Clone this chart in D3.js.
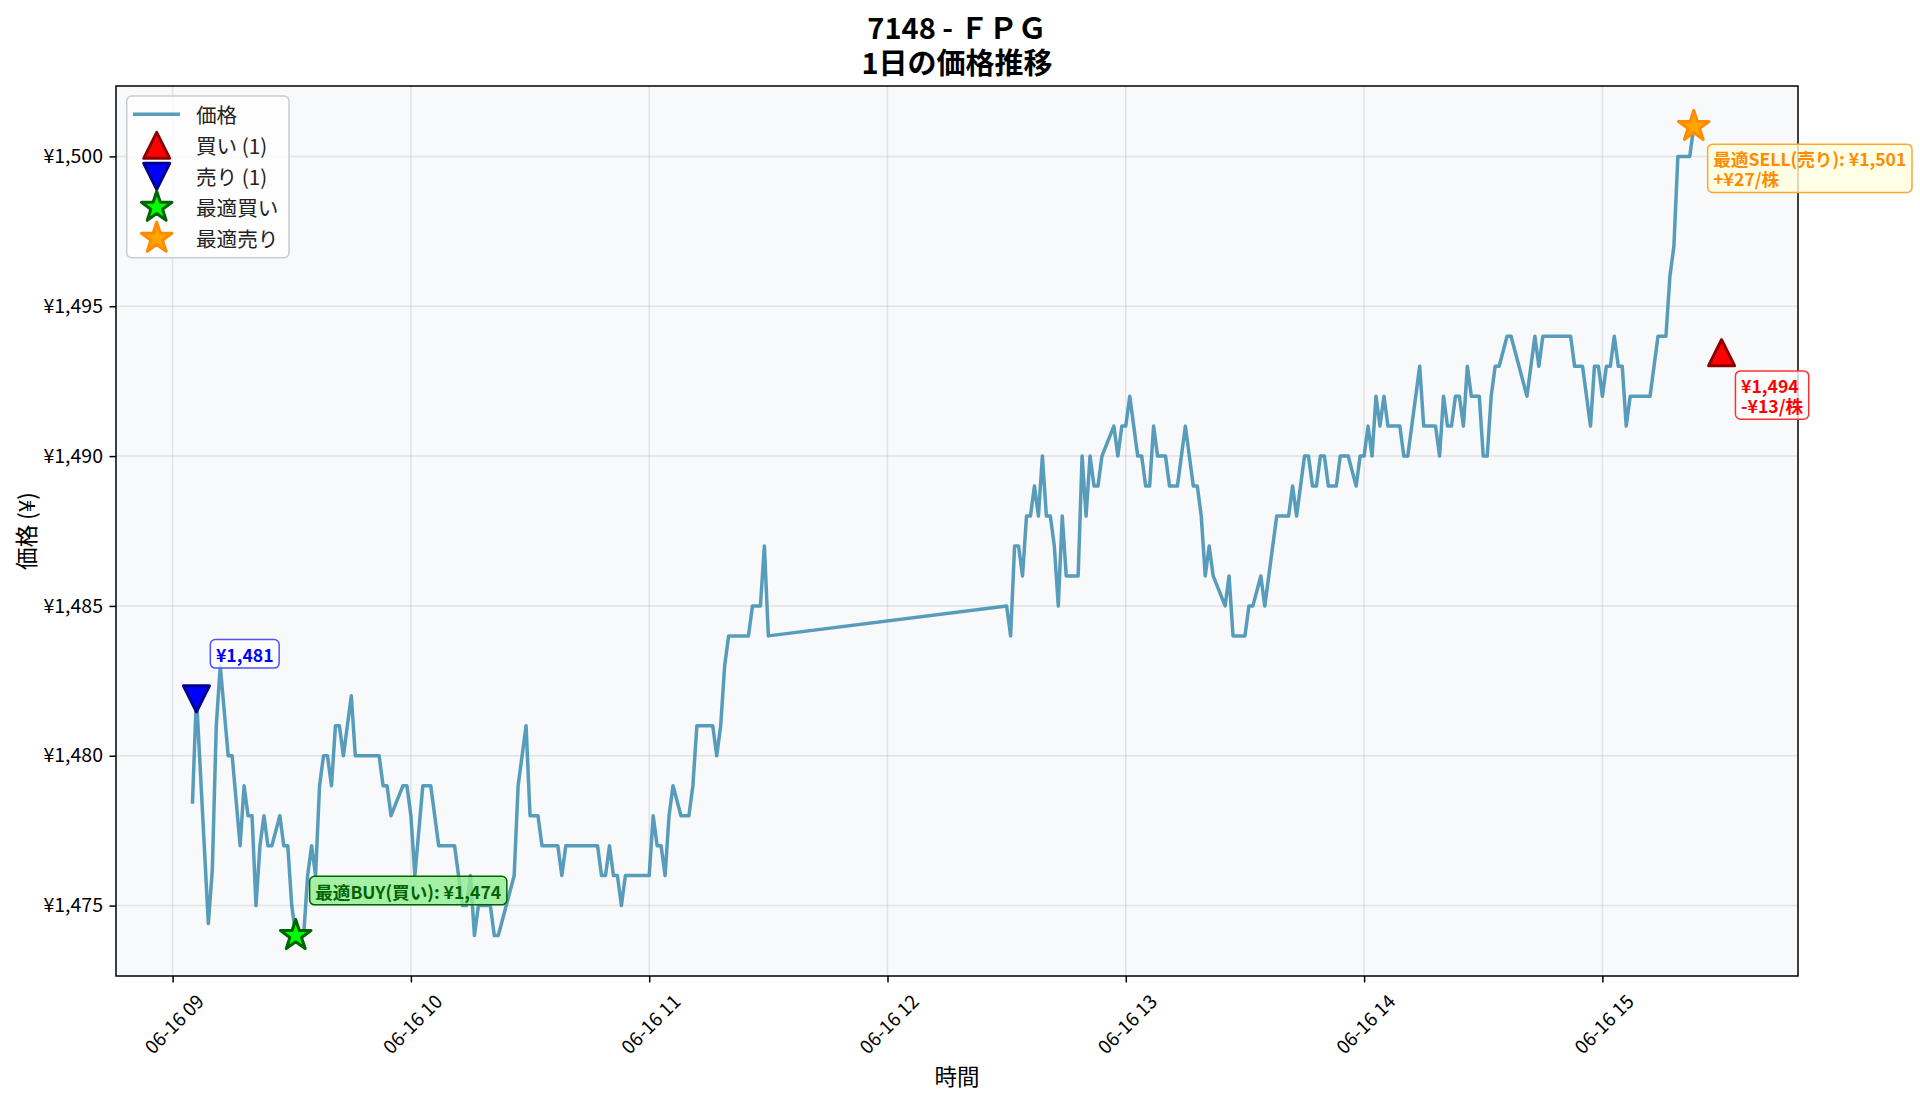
<!DOCTYPE html>
<html>
<head>
<meta charset="utf-8">
<script src="https://cdn.jsdelivr.net/npm/d3@7"></script>
<style>
  body { margin: 0; background: #ffffff; }
  text { font-family: "Noto Sans CJK JP", "Noto Sans", sans-serif; }
</style>
</head>
<body>
<div id="chart"></div>
<script>
// price vertices for 2025-06-16 (1-minute bars)
const priceTimes = [
  "09:05","09:06","09:09","09:10","09:11","09:12","09:14","09:15","09:17","09:18",
  "09:19","09:20","09:21","09:22","09:23","09:24","09:25","09:27","09:28","09:29",
  "09:30","09:31","09:33","09:34","09:35","09:36","09:37","09:38","09:39","09:40",
  "09:41","09:42","09:43","09:45","09:46","09:52","09:53","09:54","09:55","09:58",
  "09:59","10:00","10:01","10:03","10:05","10:07","10:11","10:13","10:14","10:15",
  "10:16","10:17","10:20","10:21","10:22","10:26","10:27","10:29","10:30","10:32",
  "10:33","10:37","10:38","10:39","10:47","10:48","10:49","10:50","10:51","10:52",
  "10:53","10:54","11:00","11:01","11:02","11:03","11:04","11:05","11:06","11:08",
  "11:10","11:11","11:12","11:16","11:17","11:18","11:19","11:20","11:25","11:26",
  "11:28","11:29","11:30",
  "12:30","12:31","12:32","12:33","12:34","12:35","12:36","12:37","12:38","12:39",
  "12:40","12:41","12:42","12:43","12:44","12:45","12:48","12:49","12:50","12:51",
  "12:52","12:53","12:54","12:57","12:58","12:59","13:00","13:01","13:03","13:04",
  "13:05","13:06","13:07","13:08","13:10","13:11","13:13","13:15","13:17","13:18",
  "13:19","13:20","13:21","13:22","13:25","13:26","13:27","13:30","13:31","13:32",
  "13:34","13:35","13:38","13:41","13:42","13:43","13:45","13:46","13:47","13:48",
  "13:49","13:50","13:51","13:53","13:54","13:56","13:58","13:59","14:00","14:01",
  "14:02","14:03","14:04","14:05","14:06","14:09","14:10","14:11","14:14","14:15",
  "14:18","14:19","14:20","14:21","14:22","14:23","14:24","14:25","14:26","14:27",
  "14:29","14:30","14:31","14:32","14:33","14:34","14:36","14:37","14:41","14:43",
  "14:44","14:45","14:52","14:53","14:55","14:57","14:58","14:59","15:00","15:01",
  "15:02","15:03","15:04","15:05","15:06","15:07","15:12","15:14","15:16","15:17",
  "15:18","15:19","15:22","15:23"
];
const priceValues = [
  1478.4,1482,1474.4,1476.2,1481,1483,1480,1480,1477,1479,
  1478,1478,1475,1477,1478,1477,1477,1478,1477,1477,
  1475,1474,1474,1476,1477,1476,1479,1480,1480,1479,
  1481,1481,1480,1482,1480,1480,1479,1479,1478,1479,
  1479,1478,1476,1479,1479,1477,1477,1475,1475,1476,
  1474,1475,1475,1474,1474,1476,1479,1481,1478,1478,
  1477,1477,1476,1477,1477,1476,1476,1477,1476,1476,
  1475,1476,1476,1478,1477,1477,1476,1478,1479,1478,
  1478,1479,1481,1481,1480,1481,1483,1484,1484,1485,
  1485,1487,1484,
  1485,1484,1487,1487,1486,1488,1488,1489,1488,1490,
  1488,1488,1487,1485,1488,1486,1486,1490,1488,1490,
  1489,1489,1490,1491,1490,1491,1491,1492,1490,1490,
  1489,1489,1491,1490,1490,1489,1489,1491,1489,1489,
  1488,1486,1487,1486,1485,1486,1484,1484,1485,1485,
  1486,1485,1488,1488,1489,1488,1490,1490,1489,1489,
  1490,1490,1489,1489,1490,1490,1489,1490,1490,1491,
  1490,1492,1491,1492,1491,1491,1490,1490,1493,1491,
  1491,1490,1492,1491,1491,1492,1492,1491,1493,1492,
  1492,1490,1490,1492,1493,1493,1494,1494,1492,1494,
  1493,1494,1494,1493,1493,1491,1493,1493,1492,1493,
  1493,1494,1493,1493,1491,1492,1492,1494,1494,1496,
  1497,1500,1500,1501
];

// trade signals
const sellTimes = ["09:06"];
const sellPrices = [1481];
const sellMarkerY = [1481.9];
const buyTimes = ["15:30"];
const buyPrices = [1494];
const buyMarkerY = [1493.45];
const buyPnl = [-13];

// optimal entry / exit of the day
const bestBuyTimes = ["09:31"];
const bestBuyPrices = [1474];
const bestSellTimes = ["15:23"];
const bestSellPrices = [1501];
const bestProfit = [27];

const yTicks = [1475, 1480, 1485, 1490, 1495, 1500];
const xTickHours = [9, 10, 11, 12, 13, 14, 15];
const legendLabels = ["価格", "買い (1)", "売り (1)", "最適買い", "最適売り"];
const titleLines = ["7148 - ＦＰＧ", "1日の価格推移"];

const width = 1920, height = 1101;
const margin = {top: 86, right: 122, bottom: 125, left: 116};
const plotW = width - margin.left - margin.right;
const plotH = height - margin.top - margin.bottom;

const lineColor = "#2E86AB";
const yen = v => "¥" + d3.format(",")(v);
const day = s => { let p = s.split(":").map(Number); return new Date(2025, 5, 16, p[0], p[1]); };

let series = priceTimes.map((t, i) => ({t: day(t), v: priceValues[i]}));

//data limits with 5% padding, like the original plot
let allT = series.map(d => d.t).concat(sellTimes.map(day), buyTimes.map(day));
let allV = priceValues.concat(bestBuyPrices, bestSellPrices);
let tExt = d3.extent(allT), vExt = d3.extent(allV);
let tPad = (tExt[1] - tExt[0]) * 0.05, vPad = (vExt[1] - vExt[0]) * 0.05;

let xScale = d3.scaleTime()
    .domain([new Date(+tExt[0] - tPad), new Date(+tExt[1] + tPad)])
    .range([0, plotW]);
let yScale = d3.scaleLinear()
    .domain([vExt[0] - vPad, vExt[1] + vPad])
    .range([plotH, 0]);

let svg = d3.select("#chart").append("svg")
    .attr("width", width)
    .attr("height", height);

let g = svg.append("g")
    .attr("transform", "translate(" + margin.left + "," + margin.top + ")");

g.append("rect")
    .attr("width", plotW)
    .attr("height", plotH)
    .attr("fill", "#f8f9fa");

/** grid */
g.append("g").selectAll("line")
    .data(yTicks)
    .enter().append("line")
    .attr("x1", 0).attr("x2", plotW)
    .attr("y1", d => yScale(d)).attr("y2", d => yScale(d))
    .attr("stroke", "#b0b0b0").attr("stroke-opacity", 0.3).attr("stroke-width", 1.5);

let hourTicks = xTickHours.map(h => new Date(2025, 5, 16, h, 0));
g.append("g").selectAll("line")
    .data(hourTicks)
    .enter().append("line")
    .attr("x1", d => xScale(d)).attr("x2", d => xScale(d))
    .attr("y1", 0).attr("y2", plotH)
    .attr("stroke", "#b0b0b0").attr("stroke-opacity", 0.3).attr("stroke-width", 1.5);

/** axes */
let yAxis = d3.axisLeft(yScale).tickValues(yTicks).tickFormat(yen).tickSize(6.5).tickPadding(6.5);
let yAx = g.append("g").call(yAxis);
yAx.select(".domain").remove();
yAx.selectAll("line").attr("stroke", "#000").attr("stroke-width", 1.5);
yAx.selectAll("text")
    .attr("font-family", "Noto Sans CJK JP")
    .attr("font-size", 19.5)
    .attr("fill", "#000");

let tickFont = 19;
let xAxis = d3.axisBottom(xScale).tickValues(hourTicks).tickFormat(d3.timeFormat("%m-%d %H")).tickSize(6.5);
let xAx = g.append("g")
    .attr("transform", "translate(0," + plotH + ")")
    .call(xAxis);
xAx.select(".domain").remove();
xAx.selectAll("line").attr("stroke", "#000").attr("stroke-width", 1.5);
xAx.selectAll("text")
    .attr("font-family", "Noto Sans CJK JP")
    .attr("font-size", tickFont)
    .attr("fill", "#000")
    .attr("dy", null)
    .attr("y", 0)
    .style("text-anchor", "middle")
    .style("dominant-baseline", "central")
    .each(function() {
        let len = this.getComputedTextLength();
        let half = (len + tickFont * 1.15) * 0.3536;
        d3.select(this).attr("transform", "translate(0," + (13 + half) + ") rotate(-45)");
    });

g.append("rect")
    .attr("width", plotW)
    .attr("height", plotH)
    .attr("fill", "none")
    .attr("stroke", "#000")
    .attr("stroke-width", 1.5);

/** axis labels and title */
svg.append("text")
    .text("時間")
    .attr("x", margin.left + plotW / 2).attr("y", 1075)
    .attr("font-size", 22.5).attr("text-anchor", "middle")
    .style("dominant-baseline", "central");

svg.append("text")
    .text("価格 (¥)")
    .attr("font-size", 22.5).attr("text-anchor", "middle")
    .style("dominant-baseline", "central")
    .attr("transform", "translate(24.5," + (margin.top + plotH / 2) + ") rotate(-90)");

// two-line title as one text block
let title = svg.append("text")
    .attr("font-size", 29).attr("font-weight", "bold")
    .attr("text-anchor", "middle")
    .style("dominant-baseline", "central");
title.selectAll("tspan")
    .data(titleLines)
    .enter().append("tspan")
    .text(d => d)
    .attr("x", margin.left + plotW / 2)
    .attr("y", (d, i) => 26 + i * 35)
    .style("dominant-baseline", "central");

/** price line */
let line = d3.line().x(d => xScale(d.t)).y(d => yScale(d.v));
g.append("path")
    .datum(series)
    .attr("d", line)
    .attr("fill", "none")
    .attr("stroke", lineColor)
    .attr("stroke-opacity", 0.8)
    .attr("stroke-width", 3.5)
    .attr("stroke-linejoin", "round");

/** marker shapes */
const triUp = s => "M0," + (-s / 2) + "L" + (-s / 2) + "," + (s / 2) + "L" + (s / 2) + "," + (s / 2) + "Z";
const triDown = s => "M0," + (s / 2) + "L" + (-s / 2) + "," + (-s / 2) + "L" + (s / 2) + "," + (-s / 2) + "Z";
const star = d3.symbol().type(d3.symbolStar).size(290);
const markerStyles = [
    {path: triUp(26), fill: "#ff0000", stroke: "#8b0000"},
    {path: triDown(26), fill: "#0000ff", stroke: "#00008b"},
    {path: star(), fill: "#00ff00", stroke: "#006400"},
    {path: star(), fill: "#ffa500", stroke: "#ff8c00"}
];

function drawMarker(parent, px, py, st) {
    parent.append("path")
        .attr("d", st.path)
        .attr("transform", "translate(" + px + "," + py + ")")
        .attr("fill", st.fill)
        .attr("stroke", st.stroke)
        .attr("stroke-width", 3)
        .attr("stroke-linejoin", "round");
}

//label box next to a marker, lines kept in one text element
function drawLabel(px, py, lines, dy, col) {
    let lab = g.append("g");
    let box = lab.append("rect");
    let tx = px + 19.5, lh = 19.7;
    let txt = lab.append("text")
        .attr("font-size", 17.6)
        .attr("font-weight", "bold")
        .attr("fill", col.text)
        .style("dominant-baseline", "central");
    let spans = txt.selectAll("tspan")
        .data(lines)
        .enter().append("tspan")
        .text(d => d)
        .attr("x", tx)
        .attr("y", (d, i) => py + dy + i * lh)
        .style("dominant-baseline", "central");
    let w = d3.max(spans.nodes(), n => n.getComputedTextLength());
    box.attr("x", tx - 5.6)
        .attr("y", py + dy - 14.3)
        .attr("width", w + 11.2)
        .attr("height", (lines.length - 1) * lh + 28.6)
        .attr("rx", 5)
        .attr("fill", col.fill)
        .attr("fill-opacity", 0.8)
        .attr("stroke", col.stroke)
        .attr("stroke-width", 1.5);
}

sellTimes.forEach((t, i) => {
    let px = xScale(day(t)), py = yScale(sellMarkerY[i]);
    drawMarker(g, px, py, markerStyles[1]);
    drawLabel(px, py, [yen(sellPrices[i])], -45, {text: "#0000ff", fill: "#ffffff", stroke: "#5050ff"});
});

buyTimes.forEach((t, i) => {
    let px = xScale(day(t)), py = yScale(buyMarkerY[i]);
    drawMarker(g, px, py, markerStyles[0]);
    let pnl = (buyPnl[i] < 0 ? "-" : "+") + yen(Math.abs(buyPnl[i])) + "/株";
    drawLabel(px, py, [yen(buyPrices[i]), pnl], 32.5, {text: "#ff0000", fill: "#ffffff", stroke: "#ff3030"});
});

bestBuyTimes.forEach((t, i) => {
    let px = xScale(day(t)), py = yScale(bestBuyPrices[i]);
    drawMarker(g, px, py, markerStyles[2]);
    drawLabel(px, py, ["最適BUY(買い): " + yen(bestBuyPrices[i])], -45, {text: "#006400", fill: "#90ee90", stroke: "#006400"});
});

bestSellTimes.forEach((t, i) => {
    let px = xScale(day(t)), py = yScale(bestSellPrices[i]);
    drawMarker(g, px, py, markerStyles[3]);
    drawLabel(px, py, ["最適SELL(売り): " + yen(bestSellPrices[i]), "+" + yen(bestProfit[i]) + "/株"], 32,
        {text: "#ff8c00", fill: "#ffffe0", stroke: "#ffa530"});
});

/** legend */
let legend = svg.append("g");
legend.append("rect")
    .attr("x", 126.7).attr("y", 96)
    .attr("width", 162.3).attr("height", 161.7)
    .attr("rx", 5)
    .attr("fill", "#ffffff").attr("fill-opacity", 0.8)
    .attr("stroke", "#cccccc").attr("stroke-width", 1.5);

legendLabels.forEach((lab, i) => {
    let ly = 114.3 + i * 31;
    if (i === 0) {
        legend.append("line")
            .attr("x1", 133).attr("x2", 180)
            .attr("y1", ly).attr("y2", ly)
            .attr("stroke", lineColor).attr("stroke-opacity", 0.8).attr("stroke-width", 3.5);
    } else {
        drawMarker(legend, 156.7, ly, markerStyles[i - 1]);
    }
    legend.append("text")
        .text(lab)
        .attr("x", 196).attr("y", ly)
        .attr("font-size", 20.6)
        .attr("fill", "#222")
        .style("dominant-baseline", "central");
});
</script>
</body>
</html>
